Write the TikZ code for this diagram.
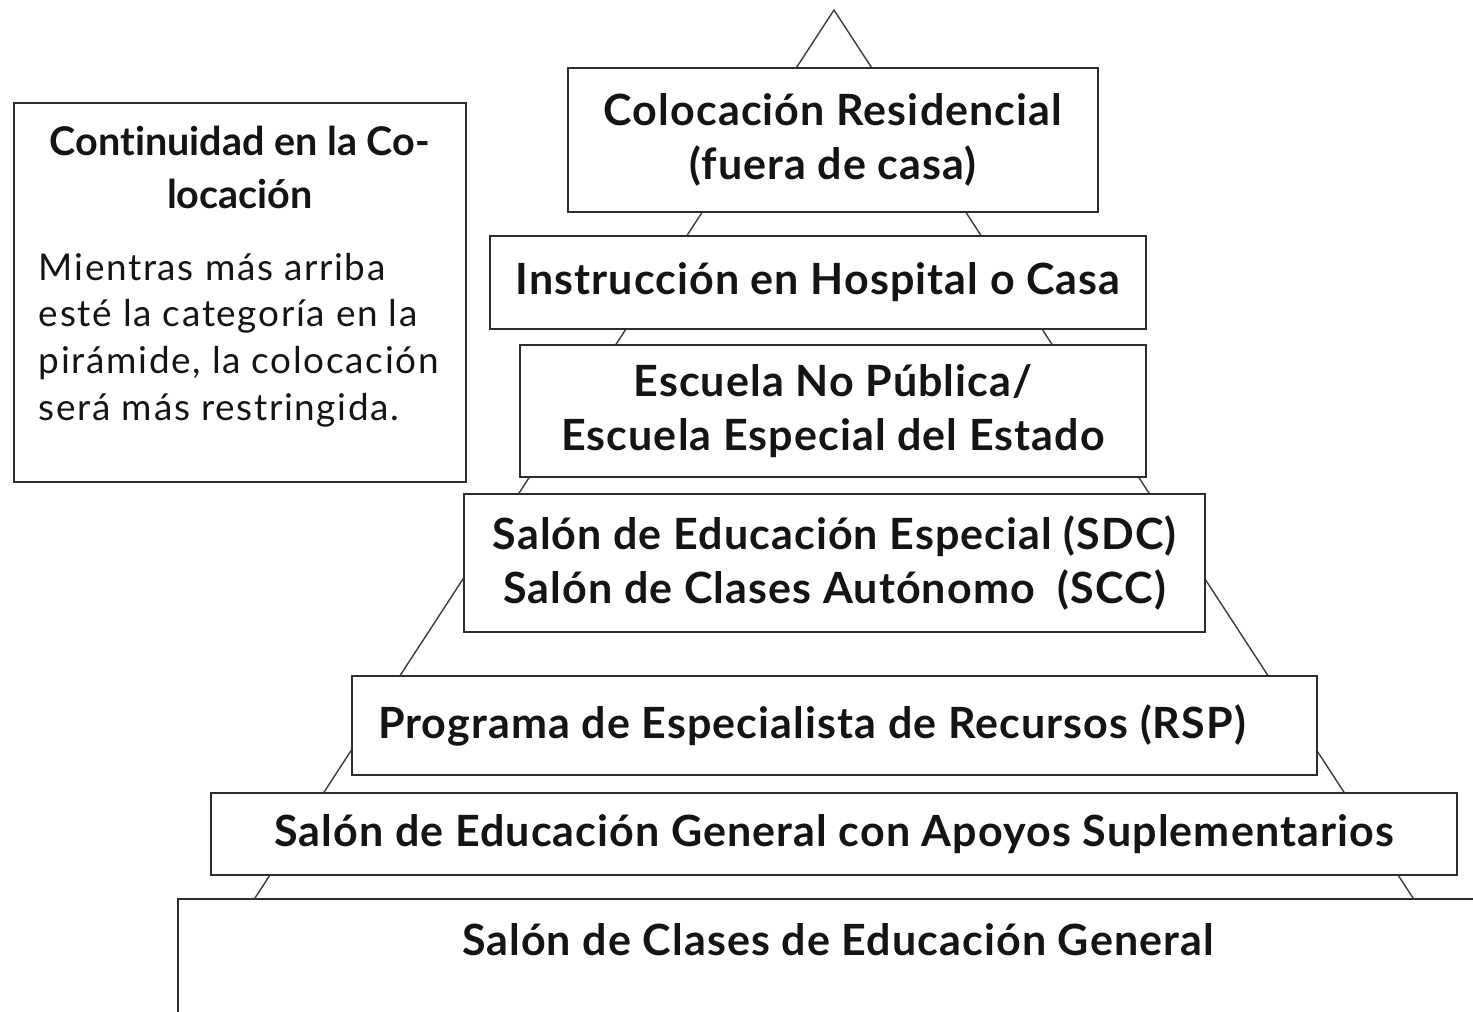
\documentclass[tikz,border=0pt]{standalone}
\usepackage{fontspec}
\setmainfont{Lato}[Ligatures={NoCommon}]
\usepackage{xcolor}
\definecolor{framegray}{RGB}{45,45,45}
\definecolor{linegray}{RGB}{60,60,60}
\definecolor{inktext}{RGB}{20,20,20}

\begin{document}
\begin{tikzpicture}[
  x=0.02cm, y=-0.02cm,
  % --- pyramid style: edit visual look here ---------------------------
  tier/.style={draw=framegray, fill=white, line width=1.1pt, text=inktext,
               font=\bfseries\fontsize{24.5}{31}\selectfont\addfontfeature{LetterSpace=2.5},
               align=center, inner sep=0pt},
  note/.style={draw=framegray, fill=white, line width=1.1pt, text=inktext,
               anchor=north west, inner xsep=0.5cm, inner ysep=0pt,
               text width=8.04cm, align=flush left},
  slope/.style={linegray, line width=0.8pt},
  % ---------------------------------------------------------------------
]
  \useasboundingbox (0,0) rectangle (1473,1011);
  \clip (0,0) rectangle (1473,1011);

  % Pyramid outline behind the tiers
  \coordinate (apex)  at (834,10);
  \coordinate (baseL) at (255,898);
  \coordinate (baseR) at (1413,898);
  \draw[slope] (baseL) -- (apex) -- (baseR);

  % Tiers, top to bottom
  \node[tier, minimum width=10.60cm, minimum height=2.88cm] (t1) at (833,140)
    {Colocación Residencial\\(fuera de casa)};
  \node[tier, minimum width=13.12cm, minimum height=1.86cm] (t2) at (818,282.5)
    {Instrucción en Hospital o Casa};
  \node[tier, minimum width=12.52cm, minimum height=2.64cm] (t3) at (833,411)
    {Escuela No Pública/\\Escuela Especial del Estado};
  \node[tier, minimum width=14.82cm, minimum height=2.76cm] (t4) at (834.5,563)
    {Salón de Educación Especial (SDC)\\Salón de Clases Autónomo\ \ (SCC)};
  \node[tier, minimum width=19.30cm, minimum height=1.98cm, text width=18.26cm,
        align=flush left] (t5) at (834.5,725.5)
    {Programa de Especialista de Recursos (RSP)};
  \node[tier, minimum width=24.92cm, minimum height=1.64cm] (t6) at (834,834)
    {Salón de Educación General con Apoyos Suplementarios};
  \node[tier, anchor=north west, minimum width=26.40cm, text height=1.14cm,
        text depth=3cm] (t7) at (177,898)
    {Salón de Clases de Educación General};

  % Side note
  \node[note, text height=1.06cm, text depth=6.52cm] (legend) at (13,102)
    {{\centering\bfseries\fontsize{22.5}{30}\selectfont Continuidad en la Co-\\locación\par}
     \vspace{14pt}
     {\fontsize{21}{26.6}\selectfont\addfontfeature{LetterSpace=4.5}%
      Mientras más arriba\\esté la categoría en la\\
      pirámide, la colocación\\será más restringida.\par}};
\end{tikzpicture}
\end{document}
